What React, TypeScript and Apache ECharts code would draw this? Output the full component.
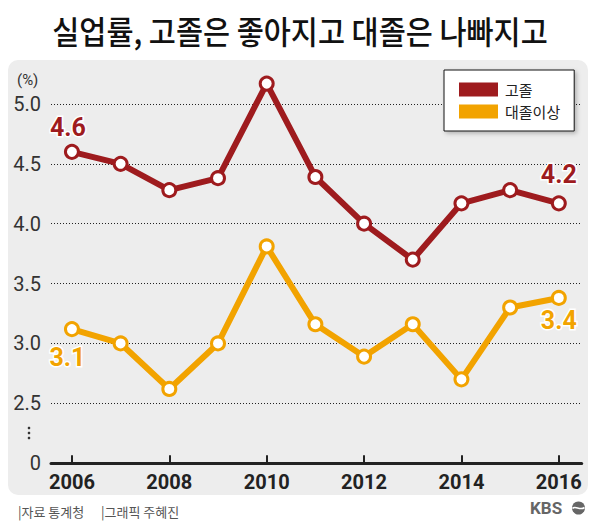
import React, { useEffect, useRef } from "react";
import * as echarts from "echarts";

const titleText = "실업률, 고졸은 좋아지고 대졸은 나빠지고";
const years = [2006, 2007, 2008, 2009, 2010, 2011, 2012, 2013, 2014, 2015, 2016];
const tickYears = [2006, 2008, 2010, 2012, 2014, 2016];
const highSchool = [4.6, 4.5, 4.28, 4.38, 5.17, 4.39, 4.0, 3.7, 4.17, 4.28, 4.17];
const college = [3.12, 3.0, 2.62, 3.0, 3.81, 3.16, 2.89, 3.16, 2.7, 3.3, 3.38];
const seriesNames = ["고졸", "대졸이상"];
const unitText = "(%)";
const sourceText = "|자료 통계청";
const creditText = "|그래픽 주혜진";

const RED = "#9e1b1e";
const ORANGE = "#f2a300";
const NARROW = "'Liberation Sans Narrow', 'Roboto', sans-serif";
const KR = "'Noto Sans CJK KR', 'Noto Sans', sans-serif";

function buildData(vals: number[], labelCfg: Record<number, any>, color: string) {
  return vals.map((v, i) => {
    const item: any = { value: [years[i], v] };
    if (labelCfg[i]) {
      item.label = {
        show: true,
        formatter: v.toFixed(1),
        color,
        fontSize: 25,
        fontWeight: "bold",
        fontFamily: NARROW,
        textBorderColor: "#fff",
        textBorderWidth: 3,
        ...labelCfg[i],
      };
    }
    return item;
  });
}

export default function App() {
  const ref = useRef<HTMLDivElement>(null);
  useEffect(() => {
    document.body.style.margin = "0";
    const chart = echarts.init(ref.current!, null, { renderer: "svg" });
    const last = years.length - 1;
    const option: any = {
      animation: false,
      backgroundColor: "#fff",
      graphic: [
        {
          type: "rect",
          z: -10,
          silent: true,
          shape: { x: 8, y: 60, width: 580, height: 435, r: 10 },
          style: { fill: "#ededed" },
        },
        {
          type: "text",
          x: 300,
          y: 30,
          scaleX: 0.92,
          style: {
            text: titleText,
            fontSize: 32,
            fontWeight: 500,
            fontFamily: KR,
            fill: "#111",
            align: "center",
            verticalAlign: "middle",
          },
        },
        {
          type: "text",
          x: 17,
          y: 80,
          style: {
            text: unitText,
            fontSize: 15,
            fontFamily: NARROW,
            fill: "#333",
            verticalAlign: "middle",
          },
        },
        { type: "circle", shape: { cx: 29, cy: 428, r: 1.3 }, style: { fill: "#333" } },
        { type: "circle", shape: { cx: 29, cy: 433, r: 1.3 }, style: { fill: "#333" } },
        { type: "circle", shape: { cx: 29, cy: 438, r: 1.3 }, style: { fill: "#333" } },
        {
          type: "text",
          x: 18,
          y: 511,
          style: { text: sourceText, fontSize: 13, fontFamily: KR, fill: "#555", verticalAlign: "middle" },
        },
        {
          type: "text",
          x: 101,
          y: 511,
          style: { text: creditText, fontSize: 13, fontFamily: KR, fill: "#555", verticalAlign: "middle" },
        },
        {
          type: "text",
          x: 530,
          y: 508,
          style: {
            text: "KBS",
            fontSize: 17,
            fontWeight: "bold",
            fontFamily: NARROW,
            fill: "#666",
            verticalAlign: "middle",
          },
        },
        { type: "circle", shape: { cx: 578.5, cy: 508, r: 6.5 }, style: { fill: "#666" } },
        {
          type: "bezierCurve",
          shape: { x1: 572.5, y1: 508.5, cpx1: 575, cpy1: 505, cpx2: 580, cpy2: 511, x2: 584.5, y2: 507.5 },
          style: { stroke: "#fff", lineWidth: 1.6, fill: "none" },
        },
      ],
      legend: {
        orient: "vertical",
        left: 444,
        top: 70,
        padding: [12, 14, 12, 15],
        itemGap: 7,
        itemWidth: 39,
        itemHeight: 14,
        icon: "rect",
        backgroundColor: "#fff",
        borderColor: "#111",
        borderWidth: 1,
        shadowColor: "rgba(0,0,0,0.25)",
        shadowBlur: 4,
        shadowOffsetX: 2,
        shadowOffsetY: 2,
        textStyle: { fontSize: 15, fontFamily: KR, color: "#222", lineHeight: 14, padding: [0, 0, 0, 2] },
        data: [
          { name: seriesNames[0], itemStyle: { color: RED, borderWidth: 0 } },
          { name: seriesNames[1], itemStyle: { color: ORANGE, borderWidth: 0 } },
        ],
      },
      grid: { left: 51, right: 14.3, top: 74, bottom: 61.8 },
      xAxis: {
        type: "value",
        min: 2005.57,
        max: 2016.47,
        splitLine: { show: false },
        axisLine: { show: true, lineStyle: { color: "#222", width: 3 } },
        axisTick: {
          show: true,
          customValues: tickYears,
          inside: true,
          length: 8,
          lineStyle: { color: "#222", width: 2 },
        },
        axisLabel: {
          customValues: tickYears,
          fontSize: 20,
          fontWeight: "bold",
          fontFamily: "Roboto, sans-serif",
          color: "#222",
          margin: 9,
          formatter: (v: number) => String(v),
        },
      },
      yAxis: {
        type: "value",
        min: 2,
        max: 5.25,
        interval: 0.5,
        axisLine: { show: false },
        axisTick: { show: false },
        splitLine: {
          show: true,
          showMinLine: false,
          showMaxLine: false,
          lineStyle: { color: "#222", width: 1, type: [1, 2] },
        },
        axisLabel: {
          showMaxLabel: false,
          fontSize: 20,
          fontFamily: NARROW,
          color: "#333",
          margin: 10,
          formatter: (v: number) => (v === 2 ? "0" : v.toFixed(1)),
        },
      },
      series: [
        {
          name: seriesNames[0],
          type: "line",
          z: 3,
          color: RED,
          symbol: "circle",
          symbolSize: 13,
          lineStyle: { color: RED, width: 6 },
          itemStyle: { color: "#fff", borderColor: RED, borderWidth: 3 },
          data: buildData(
            highSchool,
            { 0: { position: "top", offset: [-4, 1] }, [last]: { position: "top", offset: [0, -3] } },
            RED
          ),
        },
        {
          name: seriesNames[1],
          type: "line",
          z: 2,
          color: ORANGE,
          symbol: "circle",
          symbolSize: 13,
          lineStyle: { color: ORANGE, width: 6 },
          itemStyle: { color: "#fff", borderColor: ORANGE, borderWidth: 3 },
          data: buildData(
            college,
            { 0: { position: "bottom", offset: [-4.5, 3] }, [last]: { position: "bottom", offset: [0, -3] } },
            ORANGE
          ),
        },
      ],
    };
    chart.setOption(option);
    return () => chart.dispose();
  }, []);
  return <div ref={ref} style={{ width: 596, height: 525 }} />;
}
